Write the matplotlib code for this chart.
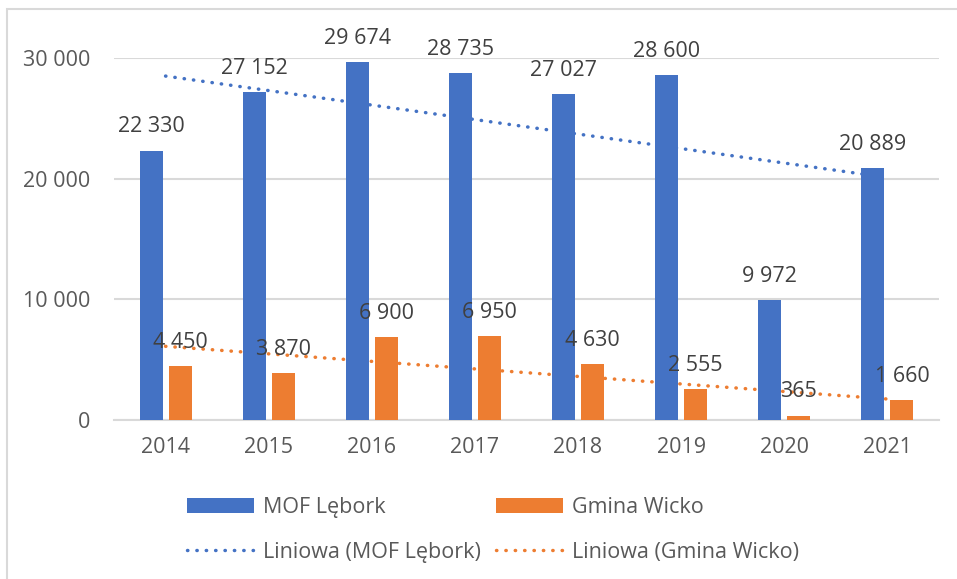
import numpy as np
import matplotlib.pyplot as plt
from matplotlib.patches import Rectangle

lata = ['2014', '2015', '2016', '2017', '2018', '2019', '2020', '2021']
mof_lebork = [22330, 27152, 29674, 28735, 27027, 28600, 9972, 20889]
gmina_wicko = [4450, 3870, 6900, 6950, 4630, 2555, 365, 1660]
y_ticks = [0, 10000, 20000, 30000]

NIEBIESKI = '#4472C4'
POMARANCZ = '#ED7D31'
SZARY_TXT = '#595959'
SZARY_LBL = '#404040'
SZARY_LIN = '#D9D9D9'

plt.rcParams['font.family'] = ['Open Sans', 'DejaVu Sans']


def fmt(v):
    # separator tysiecy jako spacja
    return f'{v:,}'.replace(',', '\u00a0')


fig = plt.figure(figsize=(9.57, 5.79), dpi=100)
ax = fig.add_axes([114 / 957, 1 - 420 / 579, 825 / 957, 362 / 579])

# ramka wykresu
fig.patches.append(Rectangle((7 / 957, -0.1), 1.2, 1 - 9 / 579 + 0.1, transform=fig.transFigure,
                             fill=False, edgecolor=SZARY_LIN, linewidth=1.5))

x = np.arange(len(lata))
szer = 0.223
odst = 0.058
x_mof = x - (szer + odst) / 2
x_wicko = x + (szer + odst) / 2

ax.bar(x_mof, mof_lebork, width=szer, color=NIEBIESKI, zorder=3, label='MOF Lębork')
ax.bar(x_wicko, gmina_wicko, width=szer, color=POMARANCZ, zorder=3, label='Gmina Wicko')

# linie trendu (liniowe)
for dane, kolor, nazwa in [(mof_lebork, NIEBIESKI, 'Liniowa (MOF Lębork)'),
                           (gmina_wicko, POMARANCZ, 'Liniowa (Gmina Wicko)')]:
    a, b = np.polyfit(x, dane, 1)
    ax.plot(x, a * x + b, color=kolor, linewidth=2.5, linestyle=(0, (0.1, 2.6)),
            dash_capstyle='round', zorder=2, label=nazwa)

# etykiety danych
for xs, dane in [(x_mof, mof_lebork), (x_wicko, gmina_wicko)]:
    for xi, v in zip(xs, dane):
        ax.annotate(fmt(v), (xi, v), xytext=(0, 17), textcoords='offset points',
                    ha='center', va='center', fontsize=15.5, color=SZARY_LBL, zorder=5)

ax.set_xlim(-0.5, len(lata) - 0.5)
ax.set_ylim(0, 30000)
ax.set_yticks(y_ticks)
ax.set_yticklabels([fmt(v) for v in y_ticks])
ax.set_xticks(x)
ax.set_xticklabels(lata)
ax.tick_params(axis='both', length=0, labelsize=15.5, labelcolor=SZARY_TXT)
ax.tick_params(axis='y', pad=17)
ax.tick_params(axis='x', pad=12)
ax.grid(axis='y', color=SZARY_LIN, linewidth=1.5, zorder=0)
for s in ['top', 'right', 'left']:
    ax.spines[s].set_visible(False)
ax.spines['bottom'].set_color(SZARY_LIN)
ax.spines['bottom'].set_linewidth(1.5)

# kolejnosc legendy: kolumna 1 - MOF, kolumna 2 - Wicko
hb, lb = ax.get_legend_handles_labels()
handles = [hb[2], hb[0], hb[3], hb[1]]
labels = [lb[2], lb[0], lb[3], lb[1]]
fig.legend(handles, labels, ncol=2, loc='upper left', bbox_to_anchor=(187 / 957, 1 - 497 / 579),
           frameon=False, fontsize=15.5, labelcolor=SZARY_TXT, handlelength=3.1, handleheight=0.7,
           handletextpad=0.45, columnspacing=0.68, labelspacing=1.1, borderpad=0, borderaxespad=0)

fig.savefig('out.png', dpi=100)
